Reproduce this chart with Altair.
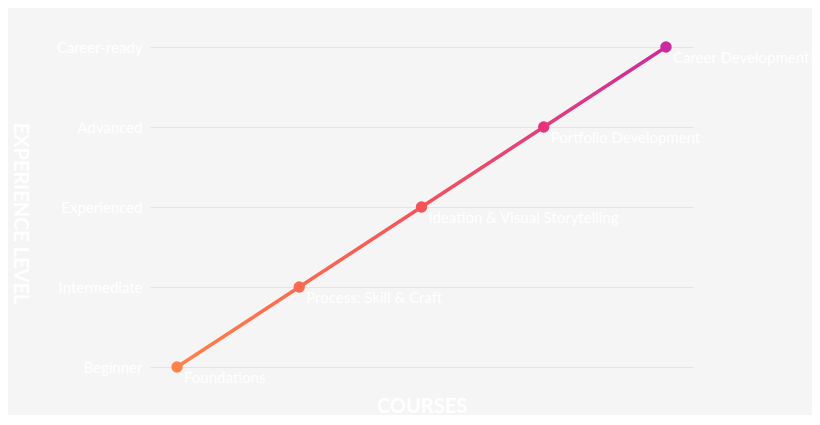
import altair as alt
import pandas as pd
import json

courses = ["Foundations", "Process: Skill & Craft", "Ideation & Visual Storytelling",
           "Portfolio Development", "Career Development"]
levels = ["Beginner", "Intermediate", "Experienced", "Advanced", "Career-ready"]
course_step = [0, 1, 2, 3, 4]
level_step = [0, 1, 2, 3, 4]

df = pd.DataFrame({"course": courses, "x": course_step, "y": level_step})

FONT = "Lato"
C0, C1, C2 = "#ff8248", "#f5525a", "#cc2a9e"

label_expr = json.dumps(levels) + "[datum.value]"

xenc = alt.X("x:Q", scale=alt.Scale(domain=[-0.221, 4.221], nice=False, zero=False),
             axis=alt.Axis(title="COURSES", labels=False, ticks=False, domain=False, grid=False,
                           titleFont=FONT, titleFontSize=20, titleFontWeight="bold",
                           titleColor="white", titlePadding=29))
yenc = alt.Y("y:Q", scale=alt.Scale(domain=[0, 4], nice=False),
             axis=alt.Axis(title="EXPERIENCE  LEVEL", values=level_step, labelExpr=label_expr,
                           ticks=False, domain=False, grid=True, gridColor="#e4e4e4",
                           labelColor="white", labelFont=FONT, labelFontSize=15, labelPadding=8,
                           titleFont=FONT, titleFontSize=20, titleFontWeight="bold",
                           titleColor="white", titleX=-131, titleY=166, titleAngle=90,
                           titleAlign="center", titleBaseline="middle"))

base = alt.Chart(df)

line = base.mark_line(
    strokeWidth=3.5,
    color=alt.Gradient(gradient="linear",
                       stops=[alt.GradientStop(color=C0, offset=0),
                              alt.GradientStop(color=C1, offset=0.5),
                              alt.GradientStop(color=C2, offset=1)],
                       x1=0, x2=1, y1=0, y2=0),
).encode(x=xenc, y=yenc)

points = base.mark_circle(size=130, opacity=1).encode(
    x="x:Q", y="y:Q",
    color=alt.Color("x:Q", scale=alt.Scale(domain=[0, 2, 4], range=[C0, C1, C2]), legend=None),
)

labels = base.mark_text(align="left", baseline="middle", dx=7, dy=11, color="white",
                        font=FONT, fontSize=15).encode(x="x:Q", y="y:Q", text="course:N")

chart = (line + points + labels).properties(
    width=543, height=320, background="#f5f5f5",
    padding={"left": 142, "top": 39, "right": 119, "bottom": 48},
    autosize=alt.AutoSizeParams(type="none"),
).configure_view(stroke=None)

chart.save("out.html", embed_options={"renderer": "svg", "actions": False})
